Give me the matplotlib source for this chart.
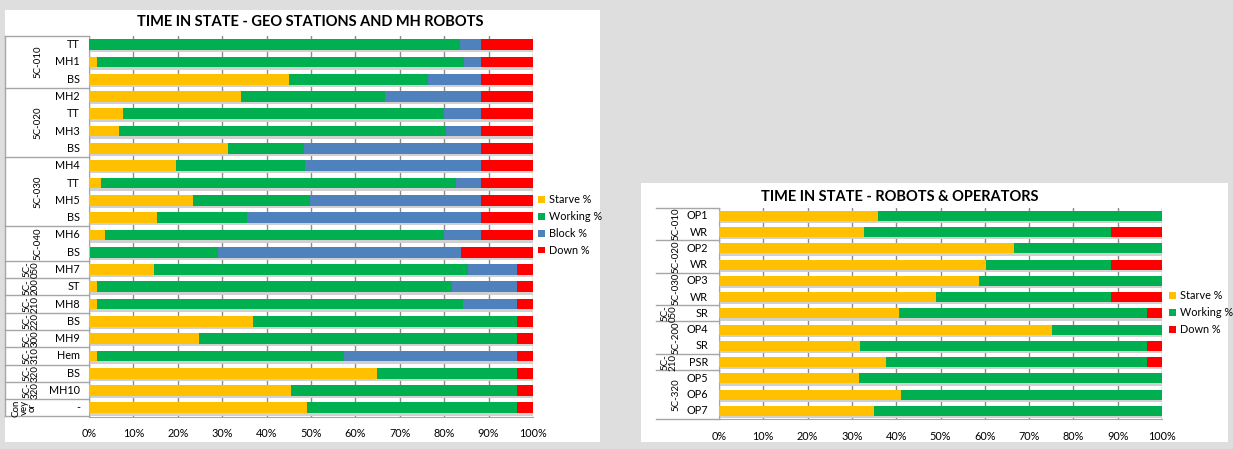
import matplotlib.pyplot as plt
from matplotlib.patches import Rectangle, Patch
from matplotlib.transforms import blended_transform_factory

plt.rcParams['font.family'] = ['Lato', 'DejaVu Sans']

W, H = 1233, 449
FS = 7.8
GFS = 7.0

# --- data: left chart (geo stations and MH robots) ---
geo_items = ['TT', 'MH1', 'BS', 'MH2', 'TT', 'MH3', 'BS', 'MH4', 'TT', 'MH5', 'BS',
             'MH6', 'BS', 'MH7', 'ST', 'MH8', 'BS', 'MH9', 'Hem', 'BS', 'MH10', '-']
geo_groups = ['5C-010', '5C-020', '5C-030', '5C-040', '5C-\n050', '5C-\n200', '5C-\n210',
              '5C-\n220', '5C-\n300', '5C-\n310', '5C-\n320', '5C-\n320', 'Con\nvey\nor']
geo_group_sizes = [3, 4, 4, 2, 1, 1, 1, 1, 1, 1, 1, 1, 1]
geo_starve = [0, 1.8, 45.0, 34.2, 7.7, 6.8, 31.2, 19.7, 2.7, 23.4, 15.3,
              3.6, 0.3, 14.6, 1.9, 1.9, 36.9, 24.7, 1.9, 64.9, 45.5, 49.1]
geo_working = [83.6, 82.7, 31.3, 32.5, 72.3, 73.6, 17.2, 28.9, 80.0, 26.4, 20.3,
               76.4, 28.8, 70.7, 79.8, 82.4, 59.6, 71.8, 55.6, 31.6, 51.0, 47.4]
geo_block = [4.8, 3.9, 12.1, 21.7, 8.4, 8.0, 40.0, 39.8, 5.7, 38.6, 52.8,
             8.4, 54.7, 11.2, 14.8, 12.2, 0, 0, 39.0, 0, 0, 0]
geo_down = [11.6, 11.6, 11.6, 11.6, 11.6, 11.6, 11.6, 11.6, 11.6, 11.6, 11.6,
            11.6, 16.2, 3.5, 3.5, 3.5, 3.5, 3.5, 3.5, 3.5, 3.5, 3.5]

# --- data: right chart (robots & operators) ---
op_items = ['OP1', 'WR', 'OP2', 'WR', 'OP3', 'WR', 'SR', 'OP4', 'SR', 'PSR', 'OP5', 'OP6', 'OP7']
op_groups = ['5C-010', '5C-020', '5C-030', '5C-\n050', '5C-200', '5C-\n210', '5C-320']
op_group_sizes = [2, 2, 2, 1, 2, 1, 3]
op_starve = [35.8, 32.8, 66.5, 60.3, 58.6, 48.9, 40.6, 75.2, 31.9, 37.7, 31.7, 41.0, 34.9]
op_working = [64.2, 55.7, 33.5, 28.2, 41.4, 39.6, 56.1, 24.8, 64.8, 59.0, 68.3, 59.0, 65.1]
op_down = [0, 11.5, 0, 11.5, 0, 11.5, 3.3, 0, 3.3, 3.3, 0, 0, 0]

C_STARVE, C_WORK, C_BLOCK, C_DOWN = '#FFC000', '#00B050', '#4F81BD', '#FF0000'
GRID = '#8c8c8c'
LINE = '#a6a6a6'

fig = plt.figure(figsize=(W / 100, H / 100), dpi=100, facecolor='#dedede')


def px(x0, y0, x1, y1):
    return [x0 / W, 1 - y1 / H, (x1 - x0) / W, (y1 - y0) / H]


def panel(x0, y0, x1, y1):
    fig.patches.append(Rectangle((x0 / W, 1 - y1 / H), (x1 - x0) / W, (y1 - y0) / H,
                                 transform=fig.transFigure, facecolor='white',
                                 edgecolor='none', zorder=-5))


def draw_chart(rect, series, colors, items, groups, sizes, label_left, item_x,
               group_x, title, title_xy, legend_xy, names):
    ax = fig.add_axes(rect)
    ax.set_facecolor('none')
    n = len(items)
    ys = list(range(n))
    # shadow under each bar
    ax.barh([y + 0.38 for y in ys], [100] * n, height=0.14, color='#d0d0d0', zorder=2)
    left = [0] * n
    for vals, c in zip(series, colors):
        ax.barh(ys, vals, left=left, height=0.62, color=c, zorder=3)
        left = [a + b for a, b in zip(left, vals)]
    ax.set_xlim(0, 100)
    ax.set_ylim(n - 0.5, -0.5)
    ax.set_xticks(range(0, 101, 10))
    ax.set_xticklabels([f'{v}%' for v in range(0, 101, 10)], fontsize=FS)
    ax.set_yticks([])
    ax.tick_params(axis='x', length=0, pad=8.5)
    ax.xaxis.grid(True, color=GRID, lw=1)
    ax.set_axisbelow(True)
    for s in ['top', 'right']:
        ax.spines[s].set_visible(False)
    ax.spines['left'].set_color(LINE)
    ax.spines['bottom'].set_color(LINE)

    tr = blended_transform_factory(fig.transFigure, ax.transData)
    for i, lab in enumerate(items):
        ax.text(item_x / W, i, lab, transform=tr, ha='right', va='center', fontsize=FS)
    pos = -0.5
    ax.plot([label_left / W, rect[0]], [pos, pos], transform=tr, color=LINE, lw=1, clip_on=False)
    for g, sz in zip(groups, sizes):
        mid = pos + sz / 2
        nl = g.count('\n')
        gx = group_x - 7 * nl
        ax.text(gx / W, mid, g, transform=tr, ha='center', va='center', rotation=90,
                fontsize=GFS, linespacing=0.9)
        pos += sz
        ax.plot([label_left / W, rect[0]], [pos, pos], transform=tr, color=LINE, lw=1, clip_on=False)

    fig.text(title_xy[0] / W, 1 - title_xy[1] / H, title, ha='center', va='center',
             fontsize=10.5, fontweight='bold')
    handles = [Patch(facecolor=c) for c in colors]
    ax.legend(handles, names, loc='upper left', bbox_to_anchor=(legend_xy[0] / W, 1 - legend_xy[1] / H),
              bbox_transform=fig.transFigure, frameon=False, handlelength=0.6, handleheight=0.6,
              handletextpad=0.4, labelspacing=0.55, fontsize=FS, borderaxespad=0, borderpad=0)
    return ax, tr


panel(5, 10, 600, 442)
panel(641, 183, 1228, 442)

ax1, tr1 = draw_chart(px(89, 36, 533, 416.5),
                      [geo_starve, geo_working, geo_block, geo_down],
                      [C_STARVE, C_WORK, C_BLOCK, C_DOWN],
                      geo_items, geo_groups, geo_group_sizes, 5, 80, 38,
                      'TIME IN STATE - GEO STATIONS AND MH ROBOTS', (310, 22), (538, 194),
                      ['Starve %', 'Working %', 'Block %', 'Down %'])
ax1.plot([5 / W, 5 / W], [-0.5, len(geo_items) - 0.5], transform=tr1, color=LINE, lw=1, clip_on=False)

ax2, tr2 = draw_chart(px(719, 207.7, 1162, 419),
                      [op_starve, op_working, op_down],
                      [C_STARVE, C_WORK, C_DOWN],
                      op_items, op_groups, op_group_sizes, 656, 708, 676,
                      'TIME IN STATE - ROBOTS & OPERATORS', (900, 197), (1169, 290),
                      ['Starve %', 'Working %', 'Down %'])

fig.savefig('out.png', dpi=100, facecolor=fig.get_facecolor())
